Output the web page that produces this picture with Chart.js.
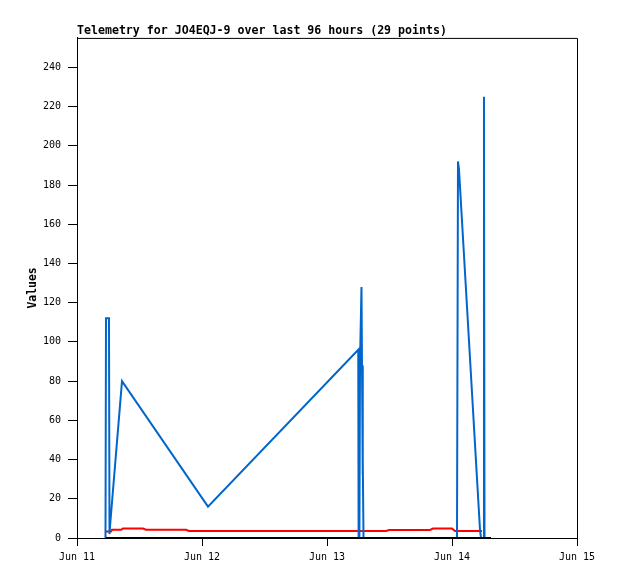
<!DOCTYPE html>
<html>
<head>
<meta charset="utf-8">
<script src="https://cdn.jsdelivr.net/npm/chart.js@4/dist/chart.umd.min.js"></script>
<style>
  body { margin: 0; background: #fff; }
  canvas { display: block; }
</style>
</head>
<body>
<canvas id="myChart" width="618" height="579"></canvas>
<script>
// hours since Jun 11 00:00
const dayLabels = ['Jun 11', 'Jun 12', 'Jun 13', 'Jun 14', 'Jun 15'];

const blueHours = [5.47, 5.57, 6.14, 6.24, 6.34, 8.64, 25.15, 54.0, 54.07, 54.22, 54.34, 54.62, 54.72, 54.82, 54.91, 55.01, 72.96, 73.15, 73.34, 77.38, 77.57, 78.05, 78.14, 78.24, 79.49];
const blueValues = [0, 112, 112, 2, 6, 80, 16, 96, 0, 0, 90, 128, 88, 32, 40, 0, 0, 192, 188, 4, 0, 0, 225, 0, 0];

const redHours = [5.57, 6.53, 6.72, 8.45, 8.83, 12.67, 13.25, 20.93, 21.5, 59.33, 59.9, 67.78, 68.35, 72.0, 72.58, 77.76];
const redValues = [3.3, 3.3, 4.2, 4.2, 4.8, 4.8, 4.2, 4.2, 3.6, 3.6, 4.1, 4.1, 4.8, 4.8, 3.6, 3.6];

const blackHours = [5.57, 79.49];
const blackValues = [0, 0];

function toPoints(xs, ys) {
    return xs.map((x, i) => ({ x: x, y: ys[i] }));
}

// marco del área de trazado (arriba y derecha)
const frame = {
    id: 'frame',
    afterDraw(chart) {
        const a = chart.chartArea;
        const ctx = chart.ctx;
        ctx.save();
        ctx.strokeStyle = '#000';
        ctx.lineWidth = 1;
        ctx.beginPath();
        ctx.moveTo(a.left, a.top + 0.5);
        ctx.lineTo(a.right + 0.5, a.top + 0.5);
        ctx.lineTo(a.right + 0.5, a.bottom);
        ctx.stroke();
        ctx.restore();
    }
};

const mono = "'DejaVu Sans Mono', monospace";

new Chart(document.getElementById('myChart').getContext('2d'), {
    type: 'line',
    data: {
        datasets: [
            {
                data: toPoints(blackHours, blackValues),
                borderColor: '#000',
                borderWidth: 2
            },
            {
                data: toPoints(blueHours, blueValues),
                borderColor: '#0066cc',
                borderWidth: 2
            },
            {
                data: toPoints(redHours, redValues),
                borderColor: '#ff0000',
                borderWidth: 2
            }
        ]
    },
    options: {
        responsive: false,
        animation: false,
        elements: { point: { radius: 0 }, line: { tension: 0 } },
        layout: { padding: { top: 0, right: 41, bottom: 0, left: 0 } },
        plugins: {
            legend: { display: false },
            tooltip: { enabled: false },
            title: {
                display: true,
                text: 'Telemetry for JO4EQJ-9 over last 96 hours (29 points)',
                align: 'start',
                fullSize: false,
                color: '#000',
                font: { family: mono, size: 11.6, weight: 'bold' },
                padding: { top: 24, bottom: 0 }
            }
        },
        scales: {
            x: {
                type: 'linear',
                min: 0,
                max: 96,
                border: { color: '#000', width: 1 },
                grid: { drawOnChartArea: false, color: '#000', tickLength: 8 },
                ticks: {
                    stepSize: 24,
                    color: '#000',
                    padding: 5,
                    maxRotation: 0,
                    font: { family: mono, size: 10 },
                    callback: (v) => dayLabels[v / 24]
                },
                afterFit(scale) { scale.height = 41; }
            },
            y: {
                min: 0,
                max: 255,
                border: { color: '#000', width: 1 },
                grid: { drawOnChartArea: false, color: '#000', tickLength: 9 },
                ticks: {
                    stepSize: 20,
                    includeBounds: false,
                    color: '#000',
                    padding: 7,
                    font: { family: mono, size: 10 }
                },
                title: {
                    display: true,
                    text: 'Values',
                    color: '#000',
                    font: { family: mono, size: 11.4, weight: 'bold' },
                    padding: { top: 26, bottom: 0 }
                },
                afterFit(scale) { scale.width = 77; }
            }
        }
    },
    plugins: [frame]
});
</script>
</body>
</html>
